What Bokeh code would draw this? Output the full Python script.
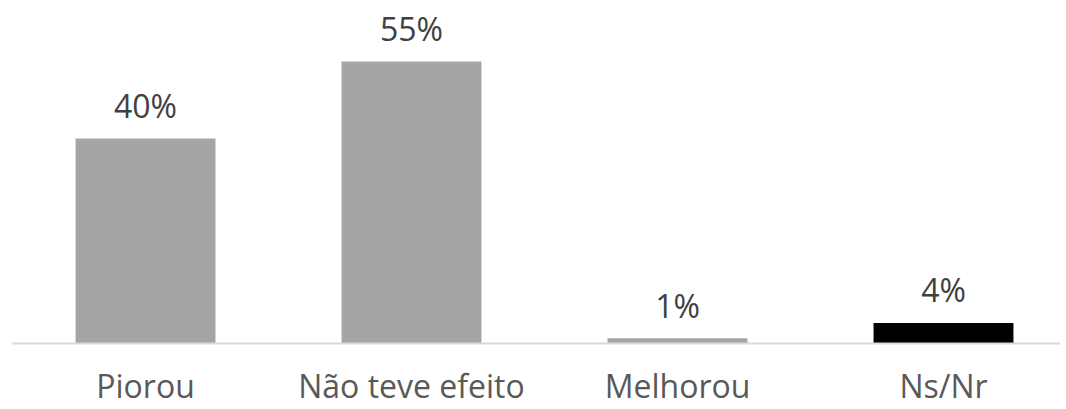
from bokeh.plotting import figure
from bokeh.models import Range1d, FixedTicker, ColumnDataSource
from bokeh.core.properties import value
from bokeh.embed import file_html
from bokeh.resources import INLINE

categories = ["Piorou", "Não teve efeito", "Melhorou", "Ns/Nr"]
values = [40, 55, 1, 4]
labels = ["40%", "55%", "1%", "4%"]

GRAY = "#A5A5A5"
BLACK = "#000000"
colors = [GRAY, GRAY, GRAY, BLACK]

xs = list(range(len(categories)))
src = ColumnDataSource(dict(x=xs, top=values, lab=labels, color=colors))

PX_PER_CAT = 266
FRAME_W = 1048
p = figure(width=1060, height=409, output_backend="svg", toolbar_location=None,
           x_range=Range1d(-0.5, -0.5 + FRAME_W / PX_PER_CAT),
           y_range=Range1d(0, 66.9),
           min_border_left=12, min_border_right=0, min_border_top=0, min_border_bottom=66)
p.outline_line_color = None
p.grid.visible = False
p.yaxis.visible = False
p.background_fill_color = "white"
p.border_fill_color = "white"

p.vbar(x="x", top="top", width=0.526, bottom=0, color="color", line_color=None, source=src)
p.text(x="x", y="top", text="lab", source=src, text_align="center", text_baseline="alphabetic",
       y_offset=-33, text_font=value("Open Sans"), text_font_size="32px", text_color="#404040")

ax = p.xaxis[0]
ax.ticker = FixedTicker(ticks=xs)
ax.major_label_overrides = {i: c for i, c in zip(xs, categories)}
ax.axis_line_color = "#D9D9D9"
ax.axis_line_width = 2
ax.major_tick_line_color = None
ax.minor_tick_line_color = None
ax.major_label_text_font = "Open Sans"
ax.major_label_text_font_size = "32px"
ax.major_label_text_color = "#595959"
ax.major_label_standoff = 14

open("out.html", "w").write(file_html(p, INLINE))
